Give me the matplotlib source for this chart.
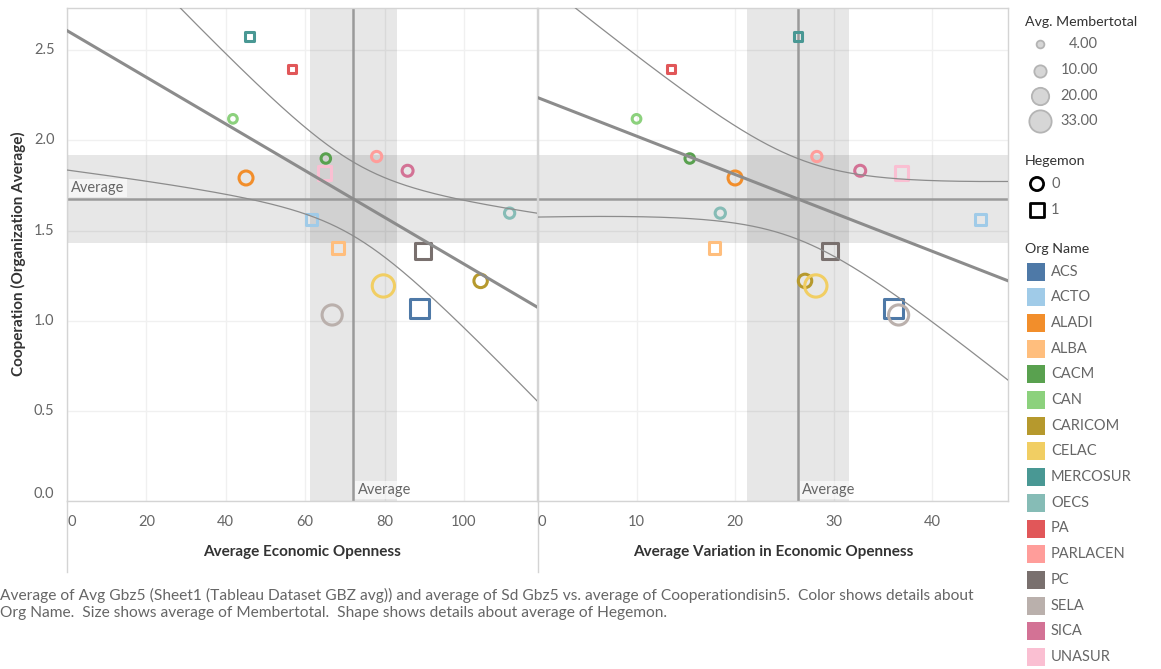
import numpy as np
import matplotlib.pyplot as plt
from matplotlib.patches import Rectangle

plt.rcParams['font.family'] = ['Lato', 'DejaVu Sans']

# one mark per organisation
orgs = ['ACS', 'ACTO', 'ALADI', 'ALBA', 'CACM', 'CAN', 'CARICOM', 'CELAC',
        'MERCOSUR', 'OECS', 'PA', 'PARLACEN', 'PC', 'SELA', 'SICA', 'UNASUR']
colors = ['#4E79A7', '#A0CBE8', '#F28E2B', '#FFBE7D', '#59A14F', '#8CD17D', '#B6992D', '#F1CE63',
          '#499894', '#86BCB6', '#E15759', '#FF9D9A', '#79706E', '#BAB0AC', '#D37295', '#FABFD2']
avg_gbz5 = [88.8, 61.7, 45.1, 68.2, 65.2, 41.8, 104.2, 79.7,
            45.9, 111.5, 56.7, 78.0, 89.8, 66.8, 85.8, 64.8]
sd_gbz5 = [36.1, 44.9, 20.0, 17.9, 15.4, 10.0, 27.1, 28.2,
           26.4, 18.5, 13.5, 28.3, 29.6, 36.6, 32.7, 36.9]
cooperation = [1.067, 1.559, 1.792, 1.402, 1.900, 2.120, 1.221, 1.193,
               2.576, 1.597, 2.398, 1.911, 1.389, 1.032, 1.832, 1.820]
membertotal = [25, 8, 13, 9, 6, 5, 12, 33, 5, 7, 4, 7, 17, 27, 8, 12]
hegemon = [1, 1, 0, 1, 0, 0, 0, 0, 1, 0, 1, 0, 1, 0, 0, 1]

size_legend = [4, 10, 20, 33]
y_ticks = [0.0, 0.5, 1.0, 1.5, 2.0, 2.5]

caption = ("Average of Avg Gbz5 (Sheet1 (Tableau Dataset GBZ avg)) and average of Sd Gbz5 vs. "
           "average of Cooperationdisin5.  Color shows details about\n"
           "Org Name.  Size shows average of Membertotal.  Shape shows details about average of Hegemon.")

T15 = 2.1314   # t(0.975, 15) for the mean bands
T14 = 2.1448   # t(0.975, 14) for the trend line bands
SIZE_K = 7.8   # points^2 per member
GRAY_TXT = '#666666'
LINE = '#8C8C8C'
BORDER = '#D4D4D4'

W, H = 1161, 669
fig = plt.figure(figsize=(W / 100, H / 100), dpi=100)


def px_axes(x0, y0, x1, y1):
    return fig.add_axes([x0 / W, 1 - y1 / H, (x1 - x0) / W, (y1 - y0) / H])


def panel(ax, xvals, xmax, xticks, first):
    x = np.array(xvals)
    y = np.array(cooperation)
    n = len(x)
    ax.set_xlim(0, xmax)
    ax.set_ylim(0, 2.735)
    ax.set_xticks(xticks)
    ax.set_yticks(y_ticks)
    ax.grid(color='#F0F0F0', lw=1)
    ax.set_axisbelow(True)
    ax.tick_params(length=0, colors=GRAY_TXT, labelsize=10.5)
    for s in ax.spines.values():
        s.set_color(BORDER)
        s.set_linewidth(1)

    # reference lines at the averages, with 95% bands
    mx, my = x.mean(), y.mean()
    hx = T15 * x.std(ddof=1) / np.sqrt(n)
    hy = T15 * y.std(ddof=1) / np.sqrt(n)
    ax.axvspan(mx - hx, mx + hx, color='k', alpha=0.095, lw=0, zorder=1)
    ax.axhspan(my - hy, my + hy, color='k', alpha=0.095, lw=0, zorder=1)
    ax.axvline(mx, color='#9A9A9A', lw=1.8, zorder=2)
    ax.axhline(my, color='#9A9A9A', lw=1.8, zorder=2)
    ax.annotate('Average', xy=(mx, 0), xytext=(3, 3), textcoords='offset points',
                color=GRAY_TXT, fontsize=10.5, va='bottom', ha='left',
                bbox=dict(boxstyle='square,pad=0.15', fc='white', ec='none', alpha=0.6), zorder=5)
    if first:
        ax.annotate('Average', xy=(0, my), xytext=(3, 3), textcoords='offset points',
                    color=GRAY_TXT, fontsize=10.5, va='bottom', ha='left',
                    bbox=dict(boxstyle='square,pad=0.15', fc='white', ec='none', alpha=0.6), zorder=5)

    # linear trend with confidence band
    b, a = np.polyfit(x, y, 1)
    resid = y - (a + b * x)
    s = np.sqrt((resid ** 2).sum() / (n - 2))
    sxx = ((x - mx) ** 2).sum()
    xs = np.linspace(0, xmax, 400)
    yh = a + b * xs
    half = T14 * s * np.sqrt(1 / n + (xs - mx) ** 2 / sxx)
    ax.plot(xs, yh, color=LINE, lw=2.2, zorder=4)
    ax.plot(xs, yh + half, color=LINE, lw=0.9, zorder=4)
    ax.plot(xs, yh - half, color=LINE, lw=0.9, zorder=4)

    for xi, yi, m, h, c in zip(x, y, membertotal, hegemon, colors):
        ax.scatter(xi, yi, s=SIZE_K * m, marker='s' if h else 'o', facecolors='none',
                   edgecolors=c, linewidths=2.2, zorder=3)

    labels = ax.get_xticklabels()
    labels[0].set_ha('left')
    for lb in ax.get_yticklabels():
        lb.set_va('center')
    ax.get_yticklabels()[0].set_va('bottom')


ax1 = px_axes(67, 8, 537, 501)
ax2 = px_axes(538, 8, 1008, 501)
panel(ax1, avg_gbz5, 118.4, [0, 20, 40, 60, 80, 100], True)
panel(ax2, sd_gbz5, 47.7, [0, 10, 20, 30, 40], False)
ax1.tick_params(axis='x', pad=10)
ax2.tick_params(axis='x', pad=10)
ax1.tick_params(axis='y', pad=9)
ax2.set_yticklabels([])

# overlay in pixel coordinates for titles, legend and caption
lax = fig.add_axes([0, 0, 1, 1], zorder=-1)
lax.set_xlim(0, W)
lax.set_ylim(H, 0)
lax.axis('off')
for xv in (67, 538):
    lax.plot([xv, xv], [501, 572], color=BORDER, lw=1)

lax.text(302, 552, 'Average Economic Openness', ha='center', va='center',
         fontsize=11, fontweight='bold', color='#333333')
lax.text(773, 552, 'Average Variation in Economic Openness', ha='center', va='center',
         fontsize=11, fontweight='bold', color='#333333')
lax.text(18, 254, 'Cooperation (Organization Average)', ha='center', va='center',
         rotation=90, fontsize=11, fontweight='bold', color='#333333')
lax.text(0, 604, caption, ha='left', va='center', fontsize=11.2, color=GRAY_TXT, linespacing=1.3)

# size legend
lax.text(1025, 22, 'Avg. Membertotal', ha='left', va='center', fontsize=10.2, color='#333333')
for i, v in enumerate(size_legend):
    yy = [44, 70.5, 96, 121][i]
    lax.scatter(1040, yy, s=SIZE_K * v, facecolor='#D6D6D6', edgecolor='#B4B4B4', lw=1.3)
    lax.text(1098, yy, '%.2f' % v, ha='right', va='center', fontsize=10.5, color=GRAY_TXT)

# shape legend
lax.text(1025, 161, 'Hegemon', ha='left', va='center', fontsize=10.2, color='#333333')
for i, (lab, mk) in enumerate([('0', 'o'), ('1', 's')]):
    yy = 184 + 26 * i
    lax.scatter(1037, yy, s=90, marker=mk, facecolor='none', edgecolor='black', lw=2)
    lax.text(1051, yy, lab, ha='left', va='center', fontsize=10.5, color=GRAY_TXT)

# colour legend
lax.text(1025, 249, 'Org Name', ha='left', va='center', fontsize=10.2, color='#333333')
for i, (o, c) in enumerate(zip(orgs, colors)):
    yy = 271.5 + 25.7 * i
    lax.add_patch(Rectangle((1027, yy - 9), 18, 18, facecolor=c, edgecolor='none'))
    lax.text(1051, yy, o, ha='left', va='center', fontsize=10.5, color=GRAY_TXT)

fig.savefig('out.png', dpi=100)
